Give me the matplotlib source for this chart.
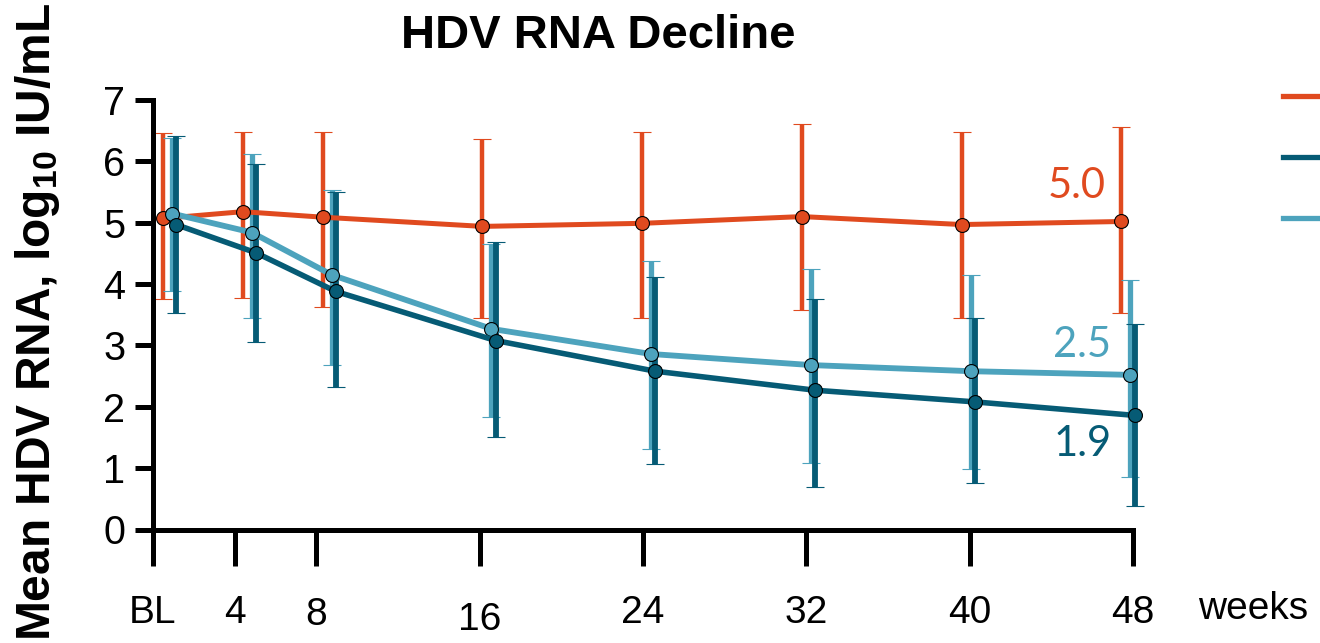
import numpy as np
import matplotlib
matplotlib.use("Agg")
import matplotlib.pyplot as plt
from matplotlib.lines import Line2D
from matplotlib.transforms import ScaledTranslation

plt.rcParams['font.family'] = ['Liberation Sans', 'DejaVu Sans']
plt.rcParams['mathtext.fontset'] = 'custom'
plt.rcParams['mathtext.rm'] = 'Liberation Sans'
plt.rcParams['mathtext.bf'] = 'Liberation Sans:bold'

# data
weeks = np.array([0, 4, 8, 16, 24, 32, 40, 48])
tick_text = ["BL", "4", "8", "16", "24", "32", "40", "48"]

orange_mean = np.array([5.07, 5.18, 5.09, 4.94, 4.99, 5.10, 4.97, 5.02])
orange_hi = np.array([6.46, 6.48, 6.48, 6.36, 6.48, 6.61, 6.48, 6.56])
orange_lo = np.array([3.76, 3.78, 3.63, 3.45, 3.45, 3.58, 3.45, 3.53])

light_mean = np.array([5.15, 4.84, 4.15, 3.27, 2.86, 2.68, 2.58, 2.52])
light_hi = np.array([6.38, 6.12, 5.53, 4.66, 4.37, 4.25, 4.14, 4.07])
light_lo = np.array([3.89, 3.45, 2.68, 1.83, 1.32, 1.08, 0.98, 0.85])

dark_mean = np.array([4.97, 4.51, 3.88, 3.08, 2.58, 2.27, 2.08, 1.86])
dark_hi = np.array([6.41, 5.95, 5.50, 4.68, 4.11, 3.76, 3.45, 3.35])
dark_lo = np.array([3.53, 3.06, 2.32, 1.50, 1.06, 0.69, 0.75, 0.38])

end_labels = ["5.0", "2.5", "1.9"]

c_orange = "#E04A1F"
c_dark = "#065B75"
c_light = "#4DA3BD"

fig = plt.figure(figsize=(13.2, 6.43), dpi=100)
ax = fig.add_axes([153 / 1320, 1 - 529.5 / 643, 980 / 1320, 429.5 / 643])

# series are drawn slightly shifted sideways so the bars don't overlap
series = [
    (orange_mean, orange_lo, orange_hi, c_orange, 0.49, 3.2, 3.6),
    (light_mean, light_lo, light_hi, c_light, 0.93, 3.8, 4.2),
    (dark_mean, dark_lo, dark_hi, c_dark, 1.13, 4.2, 4.0),
]
for mean, lo, hi, col, off, elw, lw in series:
    x = weeks * 0.978 + off
    ax.errorbar(x, mean, yerr=[mean - lo, hi - mean], fmt="o-", color=col,
                lw=lw, ms=10, mec="black", mew=0.8, elinewidth=elw,
                capsize=6.5, capthick=4.5, clip_on=False)

ax.set_xlim(0, 48)
ax.set_ylim(0, 7)
ax.spines["top"].set_visible(False)
ax.spines["right"].set_visible(False)
ax.spines["left"].set_linewidth(3.6)
ax.spines["bottom"].set_linewidth(3.6)
ax.spines["bottom"].set_capstyle("projecting")

ax.set_yticks(range(0, 8))
ax.tick_params(axis="y", length=13, width=3.6, labelsize=28.5, pad=7)
ax.set_xticks(weeks)
ax.set_xticklabels(tick_text)
ax.tick_params(axis="x", length=26, width=3.6, labelsize=28, pad=21)

# a couple of the x labels sit a bit lower
drops = {"8": 2, "16": 7}
for lab in ax.get_xticklabels():
    d = drops.get(lab.get_text(), 0)
    if d:
        lab.set_transform(lab.get_transform() + ScaledTranslation(0, -d / 100, fig.dpi_scale_trans))

ax.text(53.9, -1.30, "weeks", ha="center", va="center", fontsize=28, clip_on=False)

ax.set_title("HDV RNA Decline", fontsize=34, fontweight="bold", x=0.454, y=1.13, va="center")
ax.set_ylabel("Mean HDV RNA, log$_{\\mathbf{10}}$ IU/mL", fontsize=34.5, fontweight="bold", va="center")
ax.yaxis.set_label_coords(-0.118, 0.483)

# values at week 48
ax.text(45.25, 5.60, end_labels[0], color=c_orange, fontsize=30, family="Lato", ha="center", va="center")
ax.text(45.5, 3.01, end_labels[1], color=c_light, fontsize=30, family="Lato", ha="center", va="center")
ax.text(45.55, 1.39, end_labels[2], color=c_dark, fontsize=30, family="Lato", ha="center", va="center")

# legend (labels are cropped off in the original)
handles = [Line2D([], [], color=c, lw=3.8) for c in (c_orange, c_dark, c_light)]
fig.legend(handles, ["", "", ""], loc="upper left", bbox_to_anchor=(1283 / 1320, 1 - 90 / 643),
           frameon=False, fontsize=10, handlelength=2.9, handletextpad=0,
           labelspacing=3.38, borderpad=0, borderaxespad=0)

fig.savefig("out.png", dpi=100)
